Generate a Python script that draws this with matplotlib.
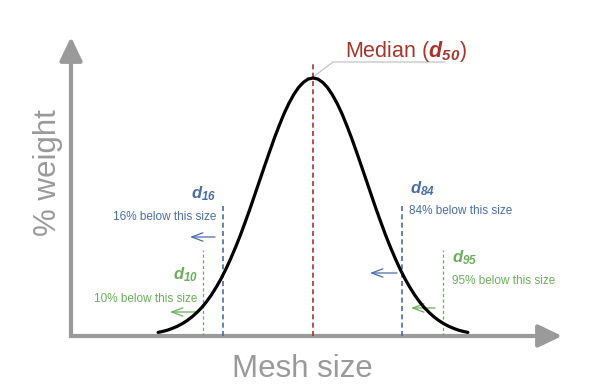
import numpy as np
import matplotlib
matplotlib.use('Agg')
import matplotlib.pyplot as plt

# mesh size (arbitrary units) and % weight
mesh = np.arange(18, 83)
weight = [1.4, 1.8, 2.3, 3.0, 3.8, 4.8, 6.0, 7.4, 9.1, 11.0, 13.3, 15.9, 18.9,
          22.2, 25.9, 30.0, 34.4, 39.1, 44.2, 49.4, 54.9, 60.4, 65.9, 71.3,
          76.6, 81.5, 86.1, 90.1, 93.5, 96.3, 98.3, 99.6, 100.0,
          99.6, 98.3, 96.3, 93.5, 90.1, 86.1, 81.5, 76.6, 71.3, 65.9, 60.4,
          54.9, 49.4, 44.2, 39.1, 34.4, 30.0, 25.9, 22.2, 18.9, 15.9, 13.3,
          11.0, 9.1, 7.4, 6.0, 4.8, 3.8, 3.0, 2.3, 1.8, 1.4]

# percentiles
pct_names = ['10', '16', '50', '84', '95']
pct_sizes = [27.3, 31.4, 50.0, 68.4, 76.9]

plt.rcParams['font.family'] = 'Liberation Sans'
plt.rcParams['mathtext.fontset'] = 'custom'
plt.rcParams['mathtext.rm'] = 'Liberation Sans:italic:bold'
plt.rcParams['mathtext.it'] = 'Liberation Sans:italic:bold'

GRAY = '#9a9a9a'
RED = '#a5352d'
BLUE = '#4a6da7'
GREEN = '#6aae5a'

fig = plt.figure(figsize=(6, 3.88), dpi=100)
ax = fig.add_axes([0, 0, 1, 1])
ax.axis('off')

# pixel -> data helper for annotations
X0, Y0, KX, KY = 71, 336, 4.84, 2.58
ax.set_xlim(-X0 / KX, (600 - X0) / KX)
ax.set_ylim((Y0 - 388) / KY, Y0 / KY)


def px(x, y):
    return ((x - X0) / KX, (Y0 - y) / KY)


# axes with arrow heads
ax.plot(*zip(px(71, 50), px(71, 336), px(550, 336)), color=GRAY, lw=3,
        solid_capstyle='butt', solid_joinstyle='miter')
arr = dict(arrowstyle='-|>,head_length=1.0,head_width=0.48', lw=3,
           color=GRAY, mutation_scale=14.4, shrinkA=0, shrinkB=0)
ax.annotate('', xy=px(71, 37), xytext=px(71, 60), arrowprops=arr)
ax.annotate('', xy=px(562, 336), xytext=px(540, 336), arrowprops=arr)

ax.text(*px(48, 173), '% weight', rotation=90, color=GRAY, fontsize=22.5,
        ha='center', va='center')
ax.text(*px(302, 377), 'Mesh size', color=GRAY, fontsize=22.5,
        ha='center', va='baseline')

# curve
ax.plot(mesh, weight, color='black', lw=2.3, solid_capstyle='round', zorder=5)

# percentile lines
tops = {'10': 33.3, '16': 51.2, '50': 106.2, '84': 51.6, '95': 33.3}
cols = {'10': GREEN, '16': BLUE, '50': RED, '84': BLUE, '95': GREEN}
for name, size in zip(pct_names, pct_sizes):
    fine = cols[name] == GREEN
    ax.plot([size, size], [0, tops[name]], color=cols[name],
            lw=0.9 if fine else 1.2,
            linestyle=(0, (2.5, 2)) if fine else (0, (3, 2)), zorder=4)

# median label with leader
ax.plot(*zip(px(313, 77), px(333, 62), px(445, 62)), color='#bdbdbd', lw=0.8,
        zorder=3)
ax.text(*px(345, 57), r'Median ($d_{50}$)', color=RED,
        fontsize=15.5, ha='left', va='baseline')

# side labels: (name, label pos, align, desc pos, arrow start, arrow end)
labels = [
    ('16', (216, 198), 'right', (216, 220), (215, 237), (190, 237)),
    ('10', (198, 279), 'right', (197, 302), (197, 312), (170, 312)),
    ('84', (410, 193), 'left', (409, 214), (397, 273), (370, 273)),
    ('95', (452, 262), 'left', (452, 284), (435, 308), (411, 308)),
]
for name, lpos, ha, dpos, a0, a1 in labels:
    c = cols[name]
    ax.text(*px(*lpos), r'$d_{%s}$' % name, color=c,
            fontsize=12, ha=ha, va='baseline')
    ax.text(*px(*dpos), '%s%% below this size' % name, color=c, fontsize=8.5,
            ha=ha, va='baseline')
    ax.annotate('', xy=px(*a1), xytext=px(*a0),
                arrowprops=dict(arrowstyle='->,head_length=0.8,head_width=0.3',
                                lw=0.9, color=c, mutation_scale=10,
                                shrinkA=0, shrinkB=0))

fig.savefig('out.png', dpi=100)
